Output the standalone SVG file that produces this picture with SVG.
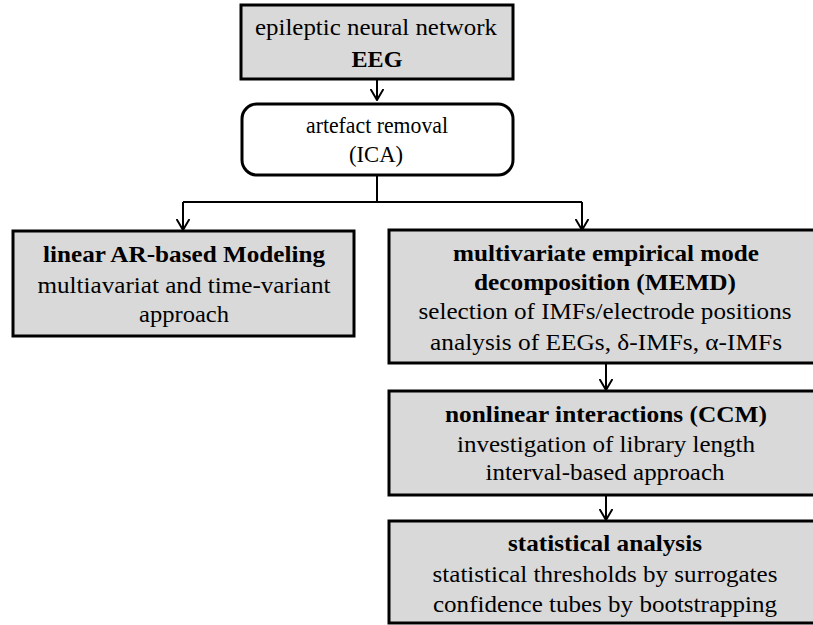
<svg xmlns="http://www.w3.org/2000/svg" width="813" height="625" viewBox="0 0 813 625">
<style>
.box{fill:#d9d9d9;stroke:#000;stroke-width:3}
.wbox{fill:#fff;stroke:#000;stroke-width:3}
.t{font-family:"Liberation Serif","Times New Roman",serif;font-size:23px;fill:#000;text-anchor:middle}
.b{font-weight:bold}
.c{fill:none;stroke:#000;stroke-width:2}
</style>
<defs>
<marker id="ah" viewBox="0 0 12 14" refX="11" refY="7" markerWidth="12" markerHeight="14" markerUnits="userSpaceOnUse" orient="auto">
<path d="M0,0.5 L11,7 L0,13.5" fill="none" stroke="#000" stroke-width="2"/>
</marker>
</defs>
<rect width="813" height="625" fill="#fff"/>
<g id="connectors">
<path class="c" d="M377,79 V100" marker-end="url(#ah)"/>
<path class="c" d="M377,175 V202 M183,202 H582"/>
<path class="c" d="M183,202 V230" marker-end="url(#ah)"/>
<path class="c" d="M582,202 V230" marker-end="url(#ah)"/>
<path class="c" d="M606,363 V390" marker-end="url(#ah)"/>
<path class="c" d="M606,495 V520" marker-end="url(#ah)"/>
</g>
<g id="eeg">
<rect class="box" x="241" y="5" width="272" height="74"/>
<text class="t" x="376" y="35" textLength="242" lengthAdjust="spacingAndGlyphs">epileptic neural network</text>
<text class="t b" x="377" y="67" textLength="51" lengthAdjust="spacingAndGlyphs">EEG</text>
</g>
<g id="ica">
<rect class="wbox" x="242" y="104" width="271" height="71" rx="15" ry="15"/>
<text class="t" x="377" y="133" textLength="142" lengthAdjust="spacingAndGlyphs">artefact removal</text>
<text class="t" x="376" y="162" textLength="54" lengthAdjust="spacingAndGlyphs">(ICA)</text>
</g>
<g id="ar">
<rect class="box" x="13" y="231" width="341" height="105"/>
<text class="t b" x="184" y="262" textLength="282" lengthAdjust="spacingAndGlyphs">linear AR-based Modeling</text>
<text class="t" x="184" y="293" textLength="293" lengthAdjust="spacingAndGlyphs">multiavariat and time-variant</text>
<text class="t" x="184" y="322" textLength="90" lengthAdjust="spacingAndGlyphs">approach</text>
</g>
<g id="memd">
<rect class="box" x="389" y="230" width="434" height="133"/>
<text class="t b" x="606" y="261" textLength="306" lengthAdjust="spacingAndGlyphs">multivariate empirical mode</text>
<text class="t b" x="605" y="290" textLength="262" lengthAdjust="spacingAndGlyphs">decomposition (MEMD)</text>
<text class="t" x="605" y="319" textLength="373" lengthAdjust="spacingAndGlyphs">selection of IMFs/electrode positions</text>
<text class="t" x="606" y="350" textLength="352" lengthAdjust="spacingAndGlyphs">analysis of EEGs, δ-IMFs, α-IMFs</text>
</g>
<g id="ccm">
<rect class="box" x="389" y="391" width="434" height="104"/>
<text class="t b" x="606" y="422" textLength="322" lengthAdjust="spacingAndGlyphs">nonlinear interactions (CCM)</text>
<text class="t" x="606" y="452" textLength="298" lengthAdjust="spacingAndGlyphs">investigation of library length</text>
<text class="t" x="605" y="480" textLength="239" lengthAdjust="spacingAndGlyphs">interval-based approach</text>
</g>
<g id="stat">
<rect class="box" x="389" y="521" width="434" height="102"/>
<text class="t b" x="605" y="551" textLength="194" lengthAdjust="spacingAndGlyphs">statistical analysis</text>
<text class="t" x="605" y="582" textLength="345" lengthAdjust="spacingAndGlyphs">statistical thresholds by surrogates</text>
<text class="t" x="605" y="612" textLength="344" lengthAdjust="spacingAndGlyphs">confidence tubes by bootstrapping</text>
</g>
</svg>
